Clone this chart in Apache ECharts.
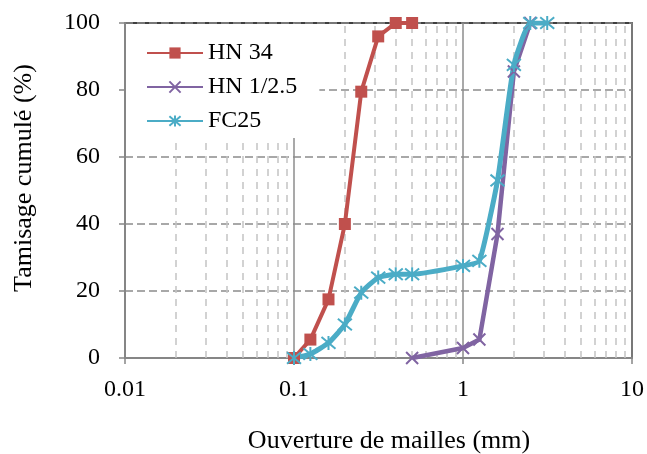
<!DOCTYPE html>
<html>
<head>
<meta charset="utf-8">
<script src="https://cdn.jsdelivr.net/npm/echarts@6/dist/echarts.min.js"></script>
<style>
html,body{margin:0;padding:0;background:#fff;}
#chart{width:647px;height:454px;}
</style>
</head>
<body>
<div id="chart"></div>
<script>
// ---- data ----
const seriesNames = ['HN 34', 'HN 1/2.5', 'FC25'];
const hn34X = [0.1, 0.125, 0.16, 0.2, 0.25, 0.315, 0.4, 0.5];
const hn34Y = [0, 5.5, 17.5, 40, 79.5, 96, 100, 100];
const hn125X = [0.5, 1, 1.25, 1.6, 2, 2.5];
const hn125Y = [0, 3, 5.5, 37, 85.5, 100];
const fc25X = [0.1, 0.125, 0.16, 0.2, 0.25, 0.315, 0.4, 0.5, 1, 1.25, 1.6, 2, 2.5, 3.15];
const fc25Y = [0, 1.2, 4.5, 10, 19.5, 24, 25, 25, 27.5, 29, 53, 87.5, 100, 100];
const xTickLabels = ['0.01', '0.1', '1', '10'];
const yTickLabels = ['0', '20', '40', '60', '80', '100'];
const xTitle = 'Ouverture de mailles (mm)';
const yTitle = 'Tamisage cumulé (%)';

// minor log grid positions (2..9 within each decade)
const decades = [0.01, 0.1, 1];
const minorGrid = [];
decades.forEach(d => { for (let k = 2; k <= 9; k++) minorGrid.push(+(k * d).toPrecision(3)); });

const pairs = (xs, ys) => xs.map((x, i) => [x, ys[i]]);
const FONT = '"Liberation Serif", "Times New Roman", serif';
const cRed = '#C0504D', cPurple = '#8064A2', cCyan = '#4BACC6';
const xPath = 'path://M0,0L10,10M10,0L0,10';
const starPath = 'path://M1,1L11,11M11,1L1,11M6,0L6,12';

const chart = echarts.init(document.getElementById('chart'), null, {renderer: 'canvas'});
chart.setOption({
  animation: false,
  backgroundColor: '#fff',
  grid: {left: 125, right: 14, top: 23, bottom: 96, show: true, borderColor: '#000', borderWidth: 1.5, backgroundColor: 'transparent'},
  legend: {
    orient: 'vertical', left: 126, top: 24,
    padding: [17, 22, 5, 20], backgroundColor: '#fff',
    itemWidth: 56, itemHeight: 14, itemGap: 10,
    textStyle: {fontFamily: FONT, fontSize: 24, color: '#000'},
    data: seriesNames
  },
  xAxis: {
    type: 'log', logBase: 10, min: 0.01, max: 10,
    axisLine: {show: true, lineStyle: {color: '#868686', width: 2}},
    axisTick: {show: true, inside: false, length: 6, lineStyle: {color: '#868686', width: 1.5}},
    axisLabel: {margin: 20, fontFamily: FONT, fontSize: 24, color: '#000',
      formatter: v => { let best = xTickLabels[0]; xTickLabels.forEach(t => { if (Math.abs(Math.log10(+t) - Math.log10(v)) < Math.abs(Math.log10(+best) - Math.log10(v))) best = t; }); return best; }},
    splitLine: {show: true, lineStyle: {color: '#8c8c8c', width: 1.5, type: 'solid'}},
    minorTick: {show: false}, minorSplitLine: {show: false}
  },
  yAxis: {
    type: 'value', min: 0, max: 100, interval: 20,
    axisLine: {show: true, lineStyle: {color: '#868686', width: 2}},
    axisTick: {show: true, inside: false, length: 6, lineStyle: {color: '#868686', width: 1.5}},
    axisLabel: {margin: 25, fontFamily: FONT, fontSize: 24, color: '#000',
      formatter: v => yTickLabels.find(t => +t === v) ?? ''},
    splitLine: {show: true, lineStyle: {color: '#8c8c8c', width: 1.5, type: [8, 4]}}
  },
  graphic: [
    {type: 'text', x: 389, y: 441, silent: true, style: {text: xTitle, font: '26px ' + FONT, fill: '#000', textAlign: 'center', textVerticalAlign: 'middle'}},
    {type: 'text', x: 24, y: 178, rotation: Math.PI / 2, silent: true, style: {text: yTitle, font: '26px ' + FONT, fill: '#000', textAlign: 'center', textVerticalAlign: 'middle'}}
  ],
  series: [
    {
      name: seriesNames[0], type: 'line', data: pairs(hn34X, hn34Y), z: 3,
      symbol: 'rect', symbolSize: 12,
      lineStyle: {color: cRed, width: 4}, itemStyle: {color: cRed},
      emphasis: {disabled: true},
      markLine: {
        silent: true, z: 1, symbol: 'none', animation: false,
        label: {show: false},
        lineStyle: {color: '#c4c4c4', width: 1.5, type: [7, 6]},
        emphasis: {disabled: true},
        data: minorGrid.map(v => ({xAxis: v}))
      }
    },
    {
      name: seriesNames[1], type: 'line', data: pairs(hn125X, hn125Y), z: 3,
      symbol: xPath, symbolSize: 12,
      lineStyle: {color: cPurple, width: 4.5}, itemStyle: {color: cPurple, borderColor: cPurple, borderWidth: 2},
      emphasis: {disabled: true}
    },
    {
      name: seriesNames[2], type: 'line', data: pairs(fc25X, fc25Y), z: 3,
      symbol: starPath, symbolSize: 14, smooth: 0.15,
      lineStyle: {color: cCyan, width: 5}, itemStyle: {color: cCyan, borderColor: cCyan, borderWidth: 2},
      emphasis: {disabled: true}
    }
  ]
});
</script>
</body>
</html>
